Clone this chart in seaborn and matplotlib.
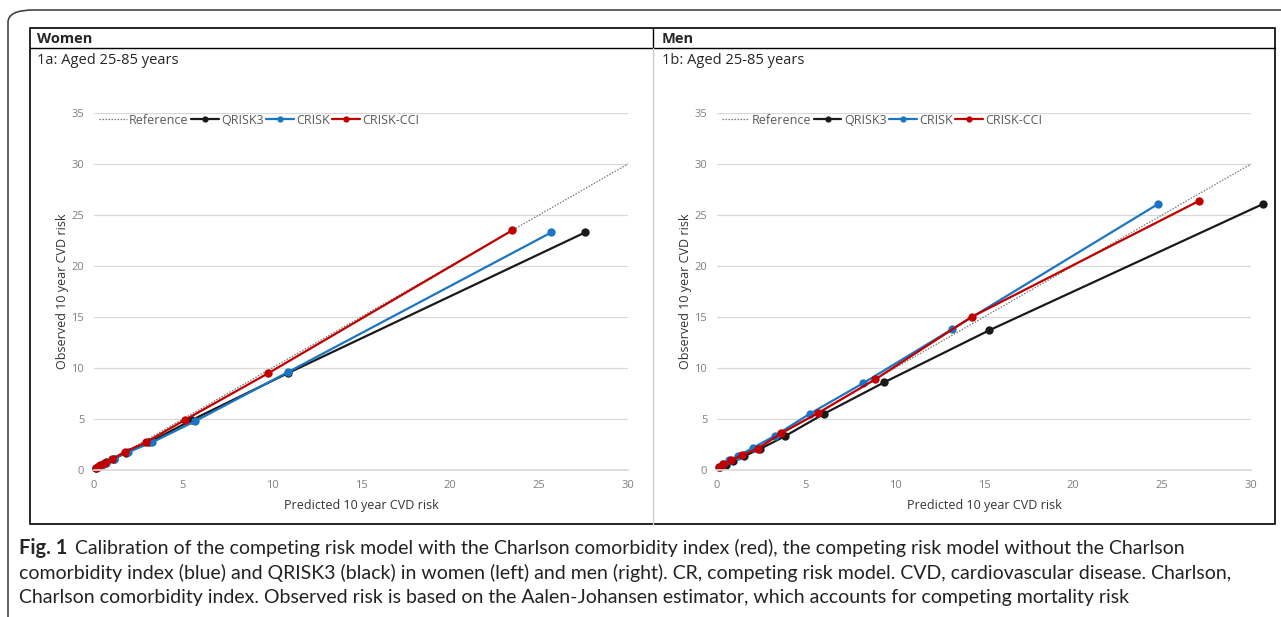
import pandas as pd
import matplotlib.pyplot as plt
import seaborn as sns
from matplotlib.patches import Rectangle, FancyBboxPatch
from matplotlib.lines import Line2D

sns.set_theme(style="whitegrid")
plt.rcParams['font.family'] = ['Open Sans', 'DejaVu Sans']

models = ["QRISK3", "CRISK", "CRISK-CCI"]
colors = {"QRISK3": "#1a1a1a", "CRISK": "#1b75c2", "CRISK-CCI": "#c00000"}

# women, predicted / observed per decile
w_qrisk3_x = [0.1, 0.3, 0.5, 0.7, 1.1, 1.8, 3.1, 5.5, 10.9, 27.6]
w_qrisk3_y = [0.2, 0.35, 0.55, 0.8, 1.1, 1.7, 2.7, 4.9, 9.5, 23.3]
w_crisk_x = [0.1, 0.25, 0.45, 0.7, 1.1, 1.9, 3.25, 5.7, 10.9, 25.7]
w_crisk_y = [0.2, 0.3, 0.5, 0.7, 1.05, 1.75, 2.7, 4.8, 9.6, 23.3]
w_cci_x = [0.1, 0.2, 0.35, 0.6, 1.0, 1.75, 2.9, 5.1, 9.8, 23.5]
w_cci_y = [0.2, 0.3, 0.45, 0.7, 1.05, 1.8, 2.7, 4.9, 9.5, 23.5]

# men
m_qrisk3_x = [0.15, 0.5, 0.9, 1.5, 2.4, 3.8, 6.0, 9.4, 15.3, 30.7]
m_qrisk3_y = [0.25, 0.5, 0.85, 1.35, 2.05, 3.3, 5.5, 8.6, 13.7, 26.1]
m_crisk_x = [0.1, 0.35, 0.7, 1.2, 2.0, 3.25, 5.2, 8.2, 13.2, 24.8]
m_crisk_y = [0.25, 0.55, 0.95, 1.4, 2.15, 3.35, 5.5, 8.5, 13.8, 26.1]
m_cci_x = [0.1, 0.35, 0.8, 1.4, 2.3, 3.6, 5.7, 8.9, 14.3, 27.1]
m_cci_y = [0.3, 0.6, 0.95, 1.45, 2.1, 3.6, 5.6, 8.9, 15.0, 26.4]

ref_x = [0, 30]
ref_y = [0, 30]

x_ticks = [0, 5, 10, 15, 20, 25, 30]
y_ticks = [0, 5, 10, 15, 20, 25, 30, 35]


def to_frame(xs, ys):
    rows = []
    for name, px, py in zip(models, xs, ys):
        for a, b in zip(px, py):
            rows.append({"pred": a, "obs": b, "model": name})
    return pd.DataFrame(rows)


women = to_frame([w_qrisk3_x, w_crisk_x, w_cci_x], [w_qrisk3_y, w_crisk_y, w_cci_y])
men = to_frame([m_qrisk3_x, m_crisk_x, m_cci_x], [m_qrisk3_y, m_crisk_y, m_cci_y])

W, H = 1281, 617
fig = plt.figure(figsize=(12.81, 6.17), dpi=100)


def fx(px):
    return px / W


def fy(py):
    return 1 - py / H


# frame around figure
fig.add_artist(FancyBboxPatch((fx(8), fy(617) - 0.05), fx(1400) - fx(8), fy(10) - fy(617) + 0.05,
                              boxstyle="round,pad=0,rounding_size=0.02", transform=fig.transFigure,
                              fill=False, edgecolor="#444444", linewidth=1.2, clip_on=False))
# inner table
fig.add_artist(Rectangle((fx(30), fy(524)), fx(1275) - fx(30), fy(28) - fy(524), transform=fig.transFigure,
                         fill=False, edgecolor="black", linewidth=1.2))
fig.add_artist(Line2D([fx(30), fx(1275)], [fy(48), fy(48)], transform=fig.transFigure, color="black", lw=1.0))
fig.add_artist(Line2D([fx(653), fx(653)], [fy(28), fy(48)], transform=fig.transFigure, color="black", lw=1.0))
fig.add_artist(Line2D([fx(653), fx(653)], [fy(48), fy(524)], transform=fig.transFigure, color="#cccccc", lw=1.0))

panels = [
    (women, 94, "Women", "1a: Aged 25-85 years", 37),
    (men, 717, "Men", "1b: Aged 25-85 years", 662),
]

for df, left_px, head, sub, tx in panels:
    ax = fig.add_axes([fx(left_px), fy(470), 534 / W, (470 - 113) / H])
    ax.plot(ref_x, ref_y, linestyle=(0, (1.2, 1.2)), color="#777777", lw=0.9, label="Reference")
    sns.lineplot(data=df, x="pred", y="obs", hue="model", palette=colors, marker="o", markersize=6,
                 markeredgewidth=0, sort=False, estimator=None, linewidth=1.6, ax=ax, legend=True)
    for line in ax.lines:
        line.set_clip_on(False)
    ax.set_xlim(0, 30)
    ax.set_ylim(0, 35)
    ax.set_xticks(x_ticks)
    ax.set_yticks(y_ticks)
    ax.tick_params(axis="both", labelsize=8, colors="#7f7f7f", length=0, pad=7)
    ax.grid(axis="y", color="#d9d9d9", linewidth=0.9)
    ax.grid(axis="x", visible=False)
    for s in ["top", "right", "left"]:
        ax.spines[s].set_visible(False)
    ax.spines["bottom"].set_color("#d9d9d9")
    ax.set_facecolor("white")
    ax.set_xlabel("Predicted 10 year CVD risk", fontsize=9, color="#333333", labelpad=6)
    ax.set_ylabel("Observed 10 year CVD risk", fontsize=9, color="#333333", labelpad=2)
    handles, labels = ax.get_legend_handles_labels()
    for h in handles[1:]:
        h.set_markersize(4.5)
    leg = ax.legend(handles, labels, loc="upper left", ncol=4, frameon=False, fontsize=9,
                    handlelength=2.2, handletextpad=0.2, columnspacing=0.2,
                    bbox_to_anchor=(0.0, 1.012), borderaxespad=0)
    for t in leg.get_texts():
        t.set_color("#595959")
    fig.text(fx(tx), fy(39), head, fontsize=10.5, fontweight="bold", va="center", ha="left")
    fig.text(fx(tx), fy(61), sub, fontsize=10.5, va="center", ha="left")

cap_font = ["Lato", "DejaVu Sans"]
cap_size = 14
fig.text(fx(19), fy(548), "Fig. 1", fontsize=cap_size + 0.5, fontweight="bold", family=cap_font, va="center")
fig.text(fx(75), fy(548), "Calibration of the competing risk model with the Charlson comorbidity index (red), "
         "the competing risk model without the Charlson", fontsize=cap_size, family=cap_font, va="center",
         color="#222222")
fig.text(fx(19), fy(573), "comorbidity index (blue) and QRISK3 (black) in women (left) and men (right). CR, "
         "competing risk model. CVD, cardiovascular disease. Charlson,", fontsize=cap_size, family=cap_font,
         va="center", color="#222222")
fig.text(fx(19), fy(598), "Charlson comorbidity index. Observed risk is based on the Aalen-Johansen estimator, "
         "which accounts for competing mortality risk", fontsize=cap_size, family=cap_font, va="center",
         color="#222222")

fig.savefig("out.png", dpi=100, facecolor="white")
